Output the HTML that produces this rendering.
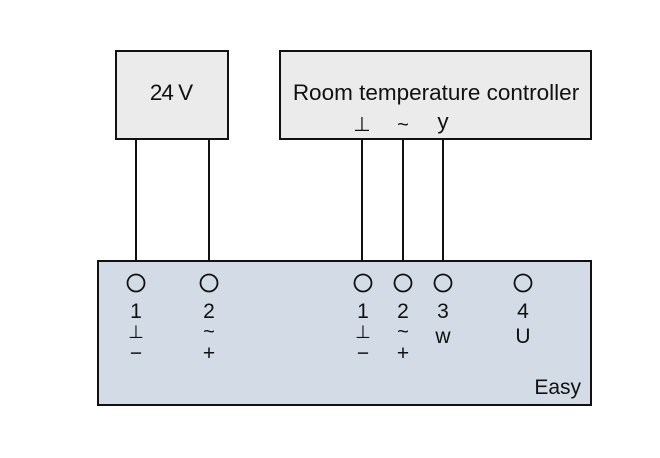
<!DOCTYPE html>
<html><head><style>body{margin:0;background:#fff}</style></head><body>
<svg width="660" height="453" xmlns="http://www.w3.org/2000/svg" font-family="Liberation Sans, sans-serif" fill="#111">
<rect x="116" y="51" width="112" height="88" fill="#ebebeb" stroke="#111" stroke-width="2"/>
<rect x="280" y="51" width="311" height="88" fill="#ebebeb" stroke="#111" stroke-width="2"/>
<g stroke="#111" stroke-width="2">
<line x1="136" y1="139" x2="136" y2="261"/><line x1="209" y1="139" x2="209" y2="261"/>
<line x1="362" y1="139" x2="362" y2="261"/><line x1="403" y1="139" x2="403" y2="261"/><line x1="443" y1="139" x2="443" y2="261"/>
</g>
<rect x="98" y="261" width="493" height="144" fill="#d3dbe6" stroke="#111" stroke-width="2"/>
<g font-size="22.5" text-anchor="middle">
<text x="171" y="100" letter-spacing="-1">24 V</text>
<text x="436" y="100">Room temperature controller</text>
<text x="362" y="131" font-size="20">⊥</text><text x="403" y="131" font-size="20">~</text><text x="443" y="129">y</text>
</g>
<g fill="none" stroke="#111" stroke-width="1.8">
<circle cx="136" cy="283" r="8.5"/><circle cx="209" cy="283" r="8.5"/><circle cx="363" cy="283" r="8.5"/>
<circle cx="403" cy="283" r="8.5"/><circle cx="443" cy="283" r="8.5"/><circle cx="523" cy="283" r="8.5"/>
</g>
<g font-size="21" text-anchor="middle">
<text x="136" y="318">1</text><text x="209" y="318">2</text><text x="363" y="318">1</text><text x="403" y="318">2</text><text x="443" y="318">3</text><text x="523" y="318">4</text>
<text x="136" y="338" font-size="18">⊥</text><text x="209" y="338" font-size="20">~</text><text x="363" y="338" font-size="18">⊥</text><text x="403" y="338" font-size="20">~</text>
<text x="443" y="343">w</text><text x="523" y="343">U</text>
<text x="136" y="360">−</text><text x="209" y="360">+</text><text x="363" y="360">−</text><text x="403" y="360">+</text>
<text x="581" y="394" text-anchor="end">Easy</text>
</g>
</svg>
</body></html>
